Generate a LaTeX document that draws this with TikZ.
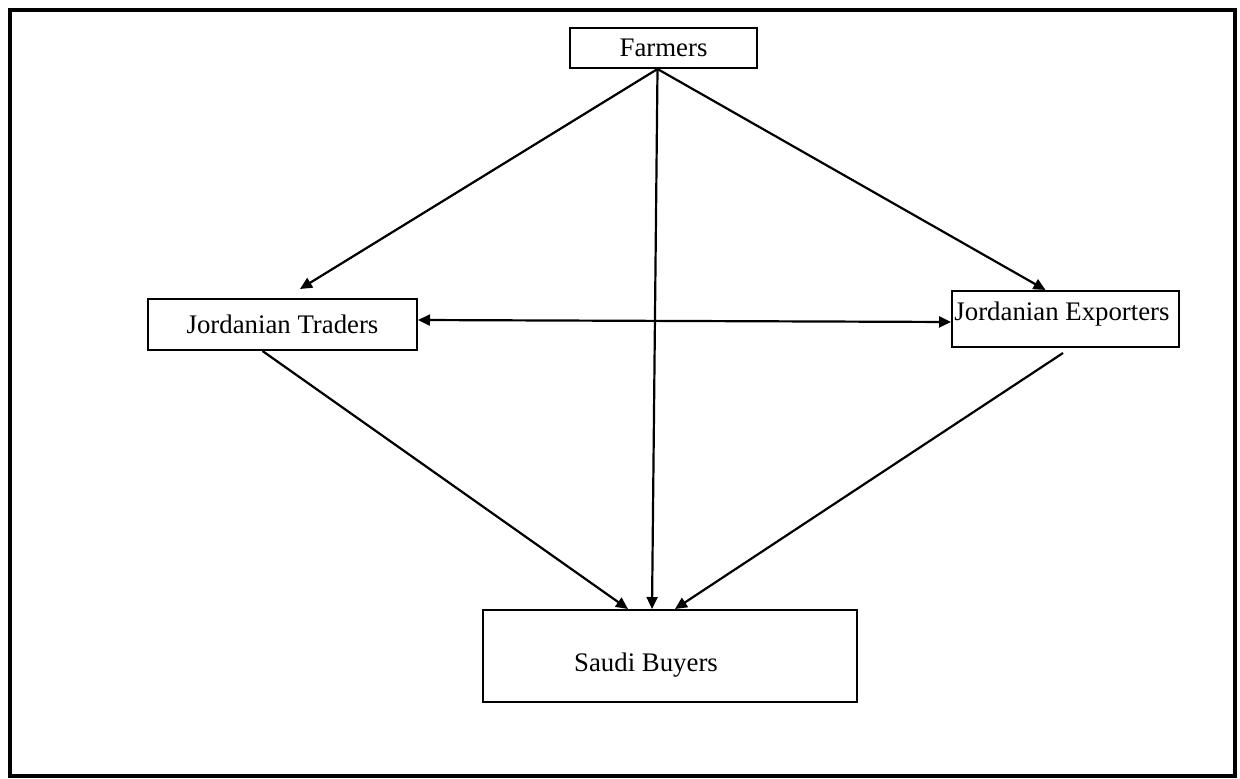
\documentclass[tikz,border=0pt]{standalone}
\usepackage{fontspec}
\setmainfont{Liberation Serif}
\usetikzlibrary{arrows.meta}
\begin{document}
\begin{tikzpicture}[x=0.5pt,y=-0.5pt,
  box/.style={draw,line width=1pt,rectangle,inner sep=0pt,font=\fontsize{13.4}{16}\selectfont},
  arr/.style={line width=1.1pt,-{Triangle[length=6pt,width=5.5pt]}},
  darr/.style={line width=1.1pt,{Triangle[length=6pt,width=5.5pt]}-{Triangle[length=6pt,width=5.5pt]}}]
\useasboundingbox (0,0) rectangle (1240,779);
\draw[line width=1.75pt] (10,10) rectangle (1235,776);
\node[box,minimum width=93.5pt,minimum height=20pt] (farmers) at (663.5,48) {Farmers};
\node[box,minimum width=134.5pt,minimum height=25.5pt] (traders) at (282.5,324.5) {Jordanian Traders};
\node[box,minimum width=113.5pt,minimum height=28pt] (exporters) at (1065.5,319) {};
\node[font=\fontsize{13.4}{16}\selectfont,inner sep=0pt] (explabel) at (1062,314) {Jordanian Exporters};
\node[box,minimum width=187pt,minimum height=46pt] (saudi) at (670,656) {};
\node[font=\fontsize{13.4}{16}\selectfont,inner sep=0pt] (saudilabel) at (646,665) {Saudi Buyers};
\draw[arr] ([xshift=-3pt]farmers.south) -- ([xshift=8.75pt,yshift=4.5pt]traders.north);
\draw[arr] ([xshift=-3pt]farmers.south) -- ([xshift=-10pt]exporters.north);
\draw[arr] ([xshift=-3pt]farmers.south) -- ([xshift=-9pt]saudi.north);
\draw[darr] ([yshift=2.25pt]traders.east) -- ([yshift=-1.5pt]exporters.west);
\draw[arr] ([xshift=-10pt]traders.south) -- ([xshift=-21pt]saudi.north);
\draw[arr] ([xshift=-1.25pt,yshift=-2.5pt]exporters.south) -- ([xshift=2.5pt]saudi.north);
\end{tikzpicture}
\end{document}
